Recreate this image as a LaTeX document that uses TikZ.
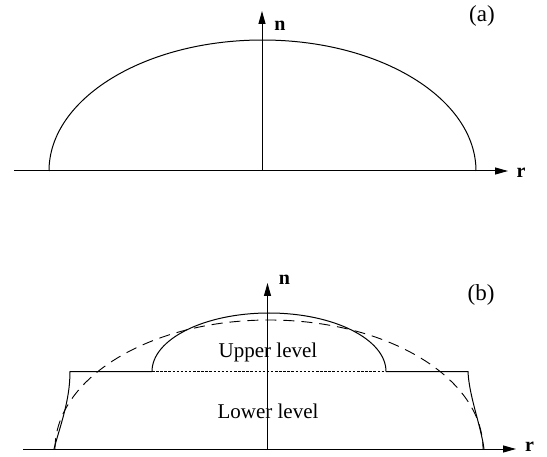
\documentclass[tikz,border=0pt]{standalone}
\usepackage{fontspec}
\setmainfont{Liberation Serif}
\usetikzlibrary{arrows.meta}
\begin{document}
\begin{tikzpicture}[x=1pt,y=1pt,
  curve/.style={line width=1pt},
  axis/.style={line width=1pt,-{Triangle[length=13pt,width=7pt]}},
  lbl/.style={font=\fontsize{21}{25}\selectfont,inner sep=0pt},
  panel/.style={font=\fontsize{23}{27}\selectfont,inner sep=0pt},
  axlbl/.style={font=\fontsize{20}{24}\selectfont\bfseries,inner sep=0pt}]
\useasboundingbox (0,0) rectangle (547,456);
% ---------- (a) ----------
\coordinate (ra0) at (14,285);
\coordinate (ra1) at (508,285);
\coordinate (na0) at (262,285);
\coordinate (na1) at (262,445);
\draw[axis] (ra0) -- (ra1);
\draw[axis] (na0) -- (na1);
\coordinate (ea) at (49,285);
\draw[curve] (ea) arc[start angle=180,end angle=0,x radius=213.5,y radius=131];
\node[axlbl] (na) at (280,430.5) {n};
\node[axlbl] (ra) at (521,283.5) {r};
\node[panel] (la) at (482,440) {(a)};
% ---------- (b) ----------
\coordinate (rb0) at (23,7);
\coordinate (rb1) at (516,7);
\coordinate (nb0) at (267.5,7);
\coordinate (nb1) at (267.5,173);
\draw[axis] (rb0) -- (rb1);
\draw[axis] (nb0) -- (nb1);
% lower level
\coordinate (lf) at (54,7);
\coordinate (lc) at (70,84.5);
\coordinate (rc) at (468,84.5);
\coordinate (rf) at (484,7);
\coordinate (ul) at (152,84.5);
\coordinate (ur) at (386,84.5);
\draw[curve] (lf) .. controls (60,30) and (70,55) .. (lc) -- (ul);
\draw[curve] (ur) -- (rc) .. controls (469,60) and (481,30) .. (rf);
% upper level
\draw[curve] (ul) arc[start angle=180,end angle=0,x radius=117,y radius=58.5];
\draw[line width=0.8pt,dash pattern=on 2.5pt off 1.6pt] (ul) -- (ur);
% dashed reference profile
\coordinate (db) at (55,7);
\draw[line width=0.9pt,dash pattern=on 11pt off 7pt] (db) arc[start angle=180,end angle=0,x radius=214,y radius=129];
\node[lbl] (up) at (268,103.5) {Upper level};
\node[lbl] (lo) at (268,45) {Lower level};
\node[axlbl] (nb) at (284.5,176) {n};
\node[axlbl,anchor=base] (rb) at (529.5,5) {r};
\node[panel] (lb) at (481,161) {(b)};
\end{tikzpicture}
\end{document}
